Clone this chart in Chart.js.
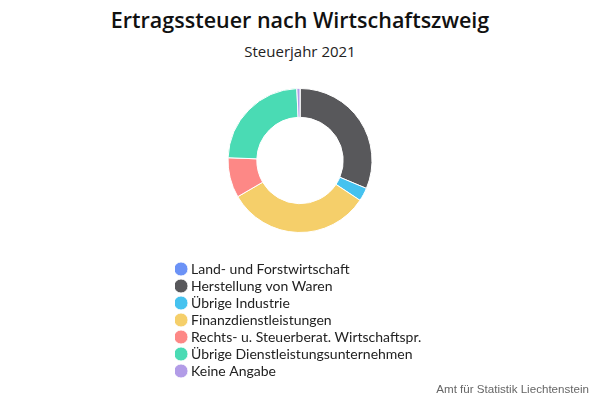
<!DOCTYPE html>
<html lang="de">
<head>
<meta charset="utf-8">
<script src="https://cdn.jsdelivr.net/npm/chart.js@4"></script>
<style>
  html, body { margin: 0; padding: 0; background: #fff; }
  #wrap { position: relative; width: 600px; height: 400px; font-family: 'Lato', sans-serif; }
  #title { position: absolute; top: 5px; left: 0; width: 600px; text-align: center; font-family: 'Open Sans', sans-serif; font-size: 21.5px; font-weight: 600; color: #111; }
  #subtitle { position: absolute; top: 41px; left: 0; width: 600px; text-align: center; font-family: 'Open Sans', sans-serif; font-size: 15px; color: #222; }
  #credit { position: absolute; right: 11px; top: 382px; font-family: 'Liberation Sans', sans-serif; font-size: 11.6px; color: #666; }
  canvas { position: absolute; left: 0; top: 0; }
</style>
</head>
<body>
<div id="wrap">
  <div id="title">Ertragssteuer nach Wirtschaftszweig</div>
  <div id="subtitle">Steuerjahr 2021</div>
  <canvas id="chart" width="600" height="400"></canvas>
  <div id="credit">Amt für Statistik Liechtenstein</div>
</div>
<script>
// Anteile in %
const categories = [
  'Land- und Forstwirtschaft',
  'Herstellung von Waren',
  'Übrige Industrie',
  'Finanzdienstleistungen',
  'Rechts- u. Steuerberat. Wirtschaftspr.',
  'Übrige Dienstleistungsunternehmen',
  'Keine Angabe',
];
const shares = [0.05, 31.3, 3.0, 32.3, 9.0, 23.7, 0.7];
const colors = ['#6b92f6', '#58585b', '#45c2ef', '#f5cf6a', '#fd8886', '#4adbb4', '#b29ce7'];

new Chart(document.getElementById('chart'), {
  type: 'doughnut',
  data: {
    labels: categories,
    datasets: [{
      data: shares,
      backgroundColor: colors,
      borderColor: '#fff',
      borderWidth: 1,
    }],
  },
  options: {
    responsive: false,
    animation: false,
    radius: 72,
    cutout: '60%',
    layout: { padding: { top: 62, bottom: 12, left: 175, right: 175 } },
    plugins: {
      tooltip: { enabled: false },
      legend: {
        position: 'bottom',
        align: 'start',
        labels: {
          usePointStyle: true,
          pointStyle: 'circle',
          boxWidth: 6,
          boxHeight: 10,
          padding: 3,
          color: '#222',
          font: { family: 'Lato', size: 14 },
        },
      },
    },
  },
});
</script>
</body>
</html>
